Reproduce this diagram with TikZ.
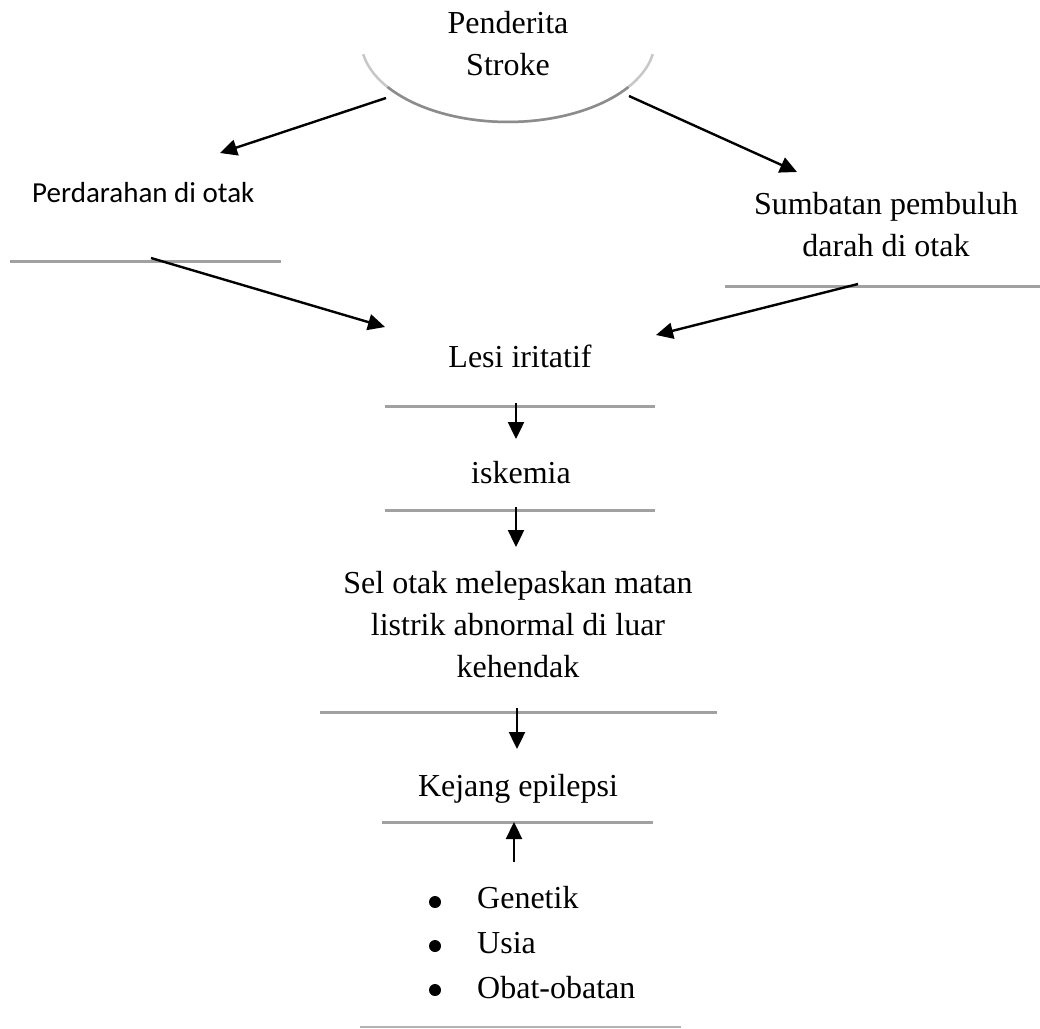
\documentclass[tikz,border=0pt]{standalone}
\usepackage{fontspec}
\setmainfont{Liberation Serif}
\newfontfamily\calfont{Carlito}
\usetikzlibrary{arrows.meta}
\begin{document}
\begin{tikzpicture}[x=1pt,y=-1pt,
  txt/.style={font=\fontsize{32}{42}\selectfont, align=center, inner sep=0pt, anchor=base},
  sanstxt/.style={font=\calfont\fontsize{29}{36}\selectfont, inner sep=0pt, anchor=base west},
  bar/.style={draw=black!37, line width=3pt},
  thinbar/.style={draw=black!30, line width=1.5pt},
  arr/.style={draw=black, line width=2.4pt, -{Triangle[length=17pt,width=16pt]}},
  blt/.style={circle, fill=black, inner sep=0pt, minimum size=12pt}
]
\useasboundingbox (0,0) rectangle (1040,1028);

% top ellipse-like shape
\draw[black!22, line width=2.5pt] (363.2,54.2) arc[start angle=170, end angle=10, x radius=147, y radius=82];
\draw[black!45, line width=2.5pt] (387.6,87.0) arc[start angle=145, end angle=35, x radius=147, y radius=82];
\node[txt] (pend) at (508,75) {Penderita\\Stroke};

% left: perdarahan
\node[sanstxt] (perd) at (32,202) {Perdarahan di otak};
\draw[bar] (10,261) coordinate (pl1) -- (281,261) coordinate (pl2);

% right: sumbatan
\node[txt] (sumb) at (886,256) {Sumbatan pembuluh\\darah di otak};
\draw[bar] (725,286) coordinate (sl1) -- (1040,286) coordinate (sl2);

% lesi
\node[txt] (lesi) at (520,367) {Lesi iritatif};
\draw[bar] (385,406) coordinate (ll1) -- (655,406) coordinate (ll2);

% iskemia
\node[txt] (isk) at (521,483) {iskemia};
\draw[bar] (385,510) coordinate (il1) -- (655,510) coordinate (il2);

% sel otak
\node[txt] (sel) at (518,677) {Sel otak melepaskan matan\\listrik abnormal di luar\\kehendak};
\draw[bar] (320,712) coordinate (cl1) -- (717,712) coordinate (cl2);

% kejang
\node[txt] (kej) at (518,796) {Kejang epilepsi};
\draw[bar] (382,822) coordinate (kl1) -- (653,822) coordinate (kl2);

% factors
\node[blt] (b1) at (435,902) {};
\node[blt] (b2) at (435,946) {};
\node[blt] (b3) at (435,990) {};
\node[txt, anchor=base west] (f1) at (477,908) {Genetik};
\node[txt, anchor=base west] (f2) at (477,953) {Usia};
\node[txt, anchor=base west] (f3) at (477,998) {Obat-obatan};
\draw[thinbar] (360,1027) coordinate (fl1) -- (681,1027) coordinate (fl2);

% connector endpoints
\coordinate (a1s) at (386,98);  \coordinate (a1e) at (220,153);
\coordinate (a2s) at (629,96);  \coordinate (a2e) at (797,172);
\coordinate (a3s) at (151,258); \coordinate (a3e) at (385,327);
\coordinate (a4s) at (858,284); \coordinate (a4e) at (656,335);
\coordinate (a5s) at (516,403); \coordinate (a5e) at (516,439);
\coordinate (a6s) at (516,507); \coordinate (a6e) at (516,547);
\coordinate (a7s) at (517,708); \coordinate (a7e) at (517,749);
\coordinate (a8s) at (514,862); \coordinate (a8e) at (514,822);

\draw[arr] (a1s) -- (a1e);
\draw[arr] (a2s) -- (a2e);
\draw[arr] (a3s) -- (a3e);
\draw[arr] (a4s) -- (a4e);
\draw[arr] (a5s) -- (a5e);
\draw[arr] (a6s) -- (a6e);
\draw[arr] (a7s) -- (a7e);
\draw[arr] (a8s) -- (a8e);
\end{tikzpicture}
\end{document}
